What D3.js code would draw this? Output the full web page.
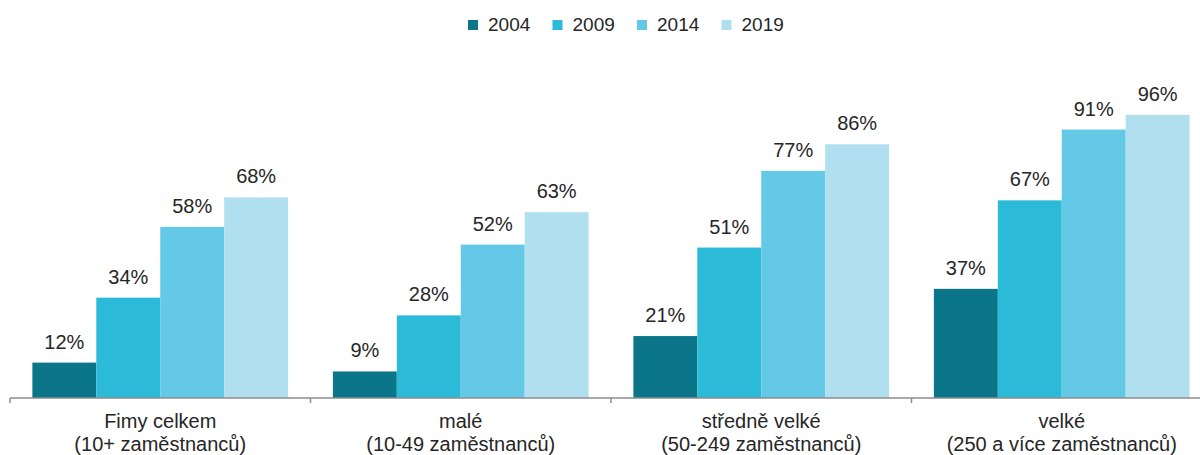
<!DOCTYPE html>
<html>
<head>
<meta charset="utf-8">
<script src="https://cdn.jsdelivr.net/npm/d3@7"></script>
<style>
  body { margin: 0; background: #fff; }
  text { font-family: "Liberation Sans", Arial, sans-serif; fill: #262626; }
</style>
</head>
<body>
<svg id="chart" width="1200" height="455"></svg>
<script>
// categories and series
const groups = ['g1', 'g2', 'g3', 'g4'];
const groupLine1 = ['Fimy celkem', 'malé', 'středně velké', 'velké'];
const groupLine2 = ['(10+ zaměstnanců)', '(10-49 zaměstnanců)', '(50-249 zaměstnanců)', '(250 a více zaměstnanců)'];
const years = ['2004', '2009', '2014', '2019'];
const v2004 = [12, 9, 21, 37];
const v2009 = [34, 28, 51, 67];
const v2014 = [58, 52, 77, 91];
const v2019 = [68, 63, 86, 96];
const colors = ['#0b7689', '#2bbad8', '#63c9e6', '#b0dfef'];

const series = [v2004, v2009, v2014, v2019];

const svg = d3.select('#chart');
const baseY = 398;

const x0 = d3.scaleBand().domain(groups).range([10, 1212]).padding(0);
const x1 = d3.scaleBand().domain(years).range([0, x0.bandwidth()])
  .paddingInner(0).paddingOuter(0.35);
const y = d3.scaleLinear().domain([0, 100]).range([baseY, 103]);

// bars
const g = svg.selectAll('.grp')
  .data(groups)
  .enter().append('g')
  .attr('class', 'grp')
  .attr('transform', d => 'translate(' + x0(d) + ',0)');

g.each(function(grp, gi) {
  const sel = d3.select(this);
  years.forEach((yr, si) => {
    const v = series[si][gi];
    sel.append('rect')
      .attr('x', x1(yr))
      .attr('y', y(v))
      .attr('width', x1.bandwidth())
      .attr('height', baseY - y(v))
      .attr('fill', colors[si]);
    sel.append('text')
      .attr('x', x1(yr) + x1.bandwidth() / 2)
      .attr('y', y(v) - 14)
      .attr('text-anchor', 'middle')
      .style('font-size', '20px')
      .text(v + '%');
  });
});

// axis line and ticks
svg.append('line')
  .attr('x1', 10).attr('x2', 1200)
  .attr('y1', baseY).attr('y2', baseY)
  .attr('stroke', '#8c8c8c').attr('stroke-width', 1.5);

groups.forEach(d => {
  svg.append('line')
    .attr('x1', x0(d)).attr('x2', x0(d))
    .attr('y1', baseY).attr('y2', baseY + 5)
    .attr('stroke', '#8c8c8c').attr('stroke-width', 1.5);
});

// category labels
groups.forEach((d, i) => {
  const cx = x0(d) + x0.bandwidth() / 2;
  svg.append('text')
    .attr('x', cx).attr('y', 428)
    .attr('text-anchor', 'middle')
    .style('font-size', '20px')
    .text(groupLine1[i]);
  svg.append('text')
    .attr('x', cx).attr('y', 451)
    .attr('text-anchor', 'middle')
    .style('font-size', '20px')
    .text(groupLine2[i]);
});

// legend
const leg = svg.append('g').attr('transform', 'translate(468,0)');
years.forEach((yr, i) => {
  const item = leg.append('g').attr('transform', 'translate(' + (i * 84.5) + ',0)');
  item.append('rect')
    .attr('x', 0).attr('y', 20)
    .attr('width', 10).attr('height', 10)
    .attr('fill', colors[i]);
  item.append('text')
    .attr('x', 20).attr('y', 31)
    .style('font-size', '19px')
    .text(yr);
});
</script>
</body>
</html>
